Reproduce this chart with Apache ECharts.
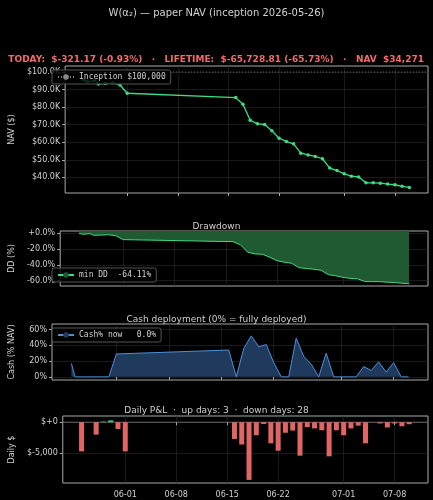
<!DOCTYPE html>
<html><head><meta charset="utf-8">
<script src="https://cdn.jsdelivr.net/npm/echarts@6/dist/echarts.min.js"></script>
<style>html,body{margin:0;background:#000}#c{width:433px;height:500px}</style>
</head><body><div id="c"></div>
<script>
const navDates = ['2026-05-26 00:00','2026-05-26 12:00','2026-05-27 12:00','2026-05-28','2026-05-29','2026-05-30','2026-05-31','2026-06-01','2026-06-16','2026-06-17','2026-06-18','2026-06-19','2026-06-20','2026-06-21','2026-06-22','2026-06-23','2026-06-24','2026-06-25','2026-06-26','2026-06-27','2026-06-28','2026-06-29','2026-06-30','2026-07-01','2026-07-02','2026-07-03','2026-07-04','2026-07-05','2026-07-06','2026-07-07','2026-07-08','2026-07-09','2026-07-10'];
const navValues = [95500,94400,95100,93200,93400,93800,92600,87900,85400,81600,72500,70500,70100,66500,62300,60400,59100,53800,52800,51900,50600,45300,43900,42000,40700,40200,36900,36900,36700,36200,35800,34900,34271];
const cashValues = [17,0,0,0,0,0,0,29,34,0,36,52,38,41,18,0,0,49,26,16,0,30,0,0,0,0,13,8,19,6,18,0,0];
const pnlDates = ['2026-05-26','2026-05-28','2026-05-29','2026-05-30','2026-05-31','2026-06-01','2026-06-16','2026-06-17','2026-06-18','2026-06-19','2026-06-20','2026-06-21','2026-06-22','2026-06-23','2026-06-24','2026-06-25','2026-06-26','2026-06-27','2026-06-28','2026-06-29','2026-06-30','2026-07-01','2026-07-02','2026-07-03','2026-07-04','2026-07-06','2026-07-07','2026-07-08','2026-07-09','2026-07-10'];
const pnlValues = [-4700,-2000,100,300,-1100,-4700,-2700,-3600,-9300,-2100,-300,-3400,-4600,-1700,-1350,-5400,-800,-1000,-1300,-5500,-1300,-2100,-1000,-550,-3400,-200,-850,-200,-650,-321];
const tickDates = ['2026-06-01','2026-06-08','2026-06-15','2026-06-22','2026-07-01','2026-07-08'];
const inception = 100000;

const ts = s => { const [d,t] = s.split(' '); const [y,m,dd] = d.split('-').map(Number); const [h,mi] = (t||'0:0').split(':').map(Number); return new Date(y,m-1,dd,h,mi).getTime(); };
const xMin = ts('2026-05-23 10:00'), xMax = ts('2026-07-12 14:00');
const ticks = tickDates.map(ts);
let peak = -Infinity;
const dd = navValues.map(v => { peak = Math.max(peak, v); return (v/peak - 1)*100; });
const minDD = Math.min(...dd);

const FONT = 'DejaVu Sans', MONO = 'DejaVu Sans Mono', TC = '#d0d0d0';
const grids = [
  {left:48,right:5,top:66,height:127},
  {left:48,right:5,top:231,height:55},
  {left:48,right:5,top:324,height:56},
  {left:48,right:5,top:416,height:67}
].map(g => Object.assign(g,{show:true,borderColor:'#aaa',borderWidth:1,backgroundColor:'#000'}));

const xAxes = grids.map((g,i) => ({
  type:'value', gridIndex:i, min:xMin, max:xMax,
  axisLine:{show:false},
  axisTick:{show:true, customValues:ticks, length:3, lineStyle:{color:'#aaa'}},
  axisLabel:{show:i===3, customValues:ticks, color:TC, fontFamily:FONT, fontSize:8,
    formatter: v => { const d = new Date(v); return String(d.getMonth()+1).padStart(2,'0')+'-'+String(d.getDate()).padStart(2,'0'); }},
  splitLine:{show:true, customValues:ticks, lineStyle:{color:'#2a2a2a', width:0.6}}
}));
function yAx(i, min, max, vals, fmt, name){
  return {type:'value', gridIndex:i, min, max, name, nameLocation:'middle', nameGap:[38,36,36,36][i],
    nameTextStyle:{color:TC, fontFamily:FONT, fontSize:8},
    axisLine:{show:false}, axisTick:{show:true, customValues:vals, length:3, lineStyle:{color:'#aaa'}},
    axisLabel:{customValues:vals, formatter:fmt, color:TC, fontFamily:FONT, fontSize:8, margin:5},
    splitLine:{show:true, customValues:vals, lineStyle:{color:'#2a2a2a', width:0.6}}};
}
const navPts = navDates.map((d,i)=>[ts(d), navValues[i]]);
const legendBase = {orient:'vertical', backgroundColor:'rgba(0,0,0,0.8)', borderColor:'#555', borderWidth:1, borderRadius:2, padding:[3,5], itemWidth:16, itemHeight:7, textStyle:{color:TC, fontFamily:MONO, fontSize:8}};
const ddName = 'min DD  '+minDD.toFixed(2)+'%';

const opt = {
  backgroundColor:'#000', animation:false,
  title:[
    {text:'W(α₂) — paper NAV (inception 2026-05-26)', left:'center', top:3, textStyle:{color:TC, fontFamily:FONT, fontSize:10, fontWeight:'normal'}},
    {text:'TODAY:  $-321.17 (-0.93%)   ·   LIFETIME:  $-65,728.81 (-65.73%)   ·   NAV  $34,271', right:4, top:50, textStyle:{color:'#f26b6b', fontFamily:FONT, fontSize:9, fontWeight:'bold'}},
    {text:'Drawdown', left:'center', top:217, textStyle:{color:TC, fontFamily:FONT, fontSize:9, fontWeight:'normal'}},
    {text:'Cash deployment (0% = fully deployed)', left:'center', top:310, textStyle:{color:TC, fontFamily:FONT, fontSize:9, fontWeight:'normal'}},
    {text:'Daily P&L  ·  up days: 3  ·  down days: 28', left:'center', top:401, textStyle:{color:TC, fontFamily:FONT, fontSize:9, fontWeight:'normal'}}
  ],
  grid:grids, xAxis:xAxes,
  yAxis:[
    yAx(0, 31100, 103400, [40000,50000,60000,70000,80000,90000,100000], v=>'$'+(v/1000).toFixed(1)+'K', 'NAV ($)'),
    yAx(1, -67, 3, [0,-20,-40,-60], v=>(v>=0?'+':'')+v.toFixed(1)+'%', 'DD (%)'),
    yAx(2, -4, 67, [0,20,40,60], v=>v+'%', 'Cash (% NAV)'),
    yAx(3, -9800, 1000, [0,-5000], v=>v===0?'$+0':'$-5,000', 'Daily $')
  ],
  legend:[
    Object.assign({}, legendBase, {data:['Inception $100,000'], left:52, top:70}),
    Object.assign({}, legendBase, {data:[ddName], left:52, top:268}),
    Object.assign({}, legendBase, {data:['Cash% now   0.0%'], left:52, top:328})
  ],
  series:[
    {name:'Inception $100,000', type:'line', xAxisIndex:0, yAxisIndex:0, data:[[xMin,inception],[xMax,inception]], symbol:'none', lineStyle:{color:'#888', type:[1,2], width:0.8}, itemStyle:{color:'#888'}},
    {name:'NAV', type:'line', xAxisIndex:0, yAxisIndex:0, data:navPts, symbol:'circle', symbolSize:3.5, lineStyle:{color:'#3ddc84', width:1.3}, itemStyle:{color:'#3ddc84'}},
    {name:ddName, type:'line', xAxisIndex:1, yAxisIndex:1, data:navDates.map((d,i)=>[ts(d), dd[i]]), symbol:'none', lineStyle:{color:'#3ddc84', width:1}, itemStyle:{color:'#1f5a32', borderColor:'#3ddc84'}, areaStyle:{color:'#1f5a32', opacity:1, origin:'end'}},
    {name:'Cash% now   0.0%', type:'line', xAxisIndex:2, yAxisIndex:2, data:navDates.map((d,i)=>[ts(d), cashValues[i]]), symbol:'none', lineStyle:{color:'#4a8fdc', width:1}, itemStyle:{color:'#1f3a5c', borderColor:'#4a8fdc'}, areaStyle:{color:'#1f3a5c', opacity:1, origin:0}},
    {name:'zero', type:'line', xAxisIndex:3, yAxisIndex:3, data:[[xMin,0],[xMax,0]], symbol:'none', lineStyle:{color:'#888', width:0.7}, silent:true, z:1},
    {name:'P&L', type:'bar', xAxisIndex:3, yAxisIndex:3, barWidth:5, z:3, data:pnlDates.map((d,i)=>({value:[ts(d), pnlValues[i]], itemStyle:{color: pnlValues[i]>=0 ? '#2ecc71' : '#e06666'}}))}
  ]
};
echarts.init(document.getElementById('c'), null, {renderer:'canvas'}).setOption(opt);
</script></body></html>
